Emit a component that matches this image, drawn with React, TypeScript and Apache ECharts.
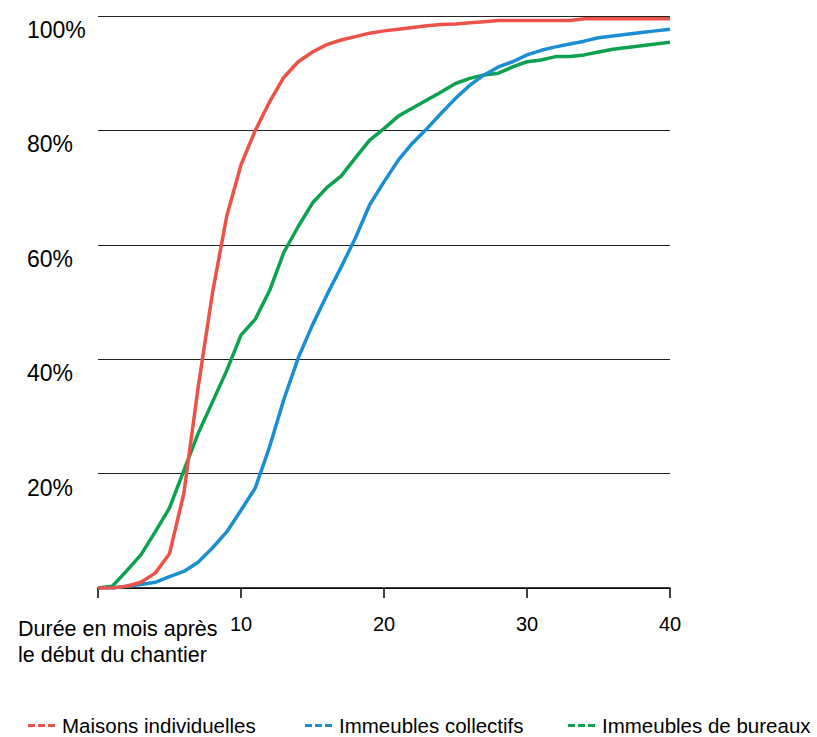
import React, { useEffect, useRef } from "react";
import * as echarts from "echarts";

const months = [0, 1, 2, 3, 4, 5, 6, 7, 8, 9, 10, 11, 12, 13, 14, 15, 16, 17, 18, 19, 20, 21, 22, 23, 24, 25, 26, 27, 28, 29, 30, 31, 32, 33, 34, 35, 36, 37, 38, 39, 40];

const maisons = [0, 0, 0.3, 1, 2.6, 6, 16.5, 35, 51.5, 65, 74, 80, 85, 89.3, 92, 93.7, 95, 95.8, 96.4, 97, 97.4, 97.7, 98, 98.3, 98.5, 98.6, 98.8, 99, 99.2, 99.2, 99.2, 99.2, 99.2, 99.2, 99.5, 99.5, 99.5, 99.5, 99.5, 99.5, 99.5];

const collectifs = [0, 0, 0.3, 0.6, 1, 2, 2.9, 4.5, 7, 9.8, 13.6, 17.5, 24.7, 33, 40.2, 46, 51.2, 56.1, 61.2, 67, 71, 74.8, 77.8, 80.3, 83, 85.6, 87.9, 89.7, 91.1, 92, 93.2, 94, 94.6, 95.1, 95.6, 96.2, 96.5, 96.8, 97.1, 97.4, 97.7];

const bureaux = [0, 0.3, 3, 5.8, 9.8, 14, 20.5, 27, 32.5, 38, 44.2, 47, 52, 58.7, 63.2, 67.3, 70, 72, 75.2, 78.3, 80.3, 82.5, 83.9, 85.3, 86.7, 88.2, 89.1, 89.7, 90, 91.1, 92, 92.3, 92.9, 92.9, 93.2, 93.7, 94.2, 94.5, 94.8, 95.1, 95.4];

const seriesNames = ["Maisons individuelles", "Immeubles collectifs", "Immeubles de bureaux"];
const seriesColors = ["#EC5247", "#1B8ED3", "#0CA14E"];
const seriesValues = [maisons, collectifs, bureaux];

const xTicks = [10, 20, 30, 40];
const yTicks = [20, 40, 60, 80, 100];
const xAxisTitle = "Durée en mois après\nle début du chantier";

const FONT = "'Liberation Sans', Arial, sans-serif";
const DASH_ICON = "path://M0,0h7v3h-7z M10,0h7v3h-7z M20,0h7v3h-7z";

export default function App() {
  const ref = useRef<HTMLDivElement>(null);

  useEffect(() => {
    if (!ref.current) return;
    const chart = echarts.init(ref.current, null, { renderer: "svg" });
    const legendLefts = [28, 305, 568];
    chart.setOption({
      animation: false,
      backgroundColor: "#ffffff",
      textStyle: { fontFamily: FONT },
      grid: { left: 98, right: 147, top: 16, bottom: 149, containLabel: false },
      xAxis: {
        type: "value",
        min: 0,
        max: 40,
        interval: 10,
        axisLine: { show: true, lineStyle: { color: "#000", width: 1.5 } },
        axisTick: { show: true, length: 10, lineStyle: { color: "#000", width: 1.5 } },
        splitLine: { show: false },
        axisLabel: {
          color: "#000",
          fontSize: 20,
          fontFamily: FONT,
          margin: 26,
          formatter: (v: number) => (xTicks.includes(v) ? String(v) : ""),
        },
      },
      yAxis: {
        type: "value",
        min: 0,
        max: 100,
        interval: 20,
        axisLine: { show: false },
        axisTick: { show: false },
        splitLine: { show: true, lineStyle: { color: "#222", width: 1 } },
        axisLabel: {
          color: "#000",
          fontSize: 23,
          fontFamily: FONT,
          align: "left",
          margin: 71,
          verticalAlign: "top",
          lineHeight: 28,
          formatter: (v: number) => (yTicks.includes(v) ? v + "%" : ""),
        },
      },
      legend: seriesNames.map((name, i) => ({
        data: [name],
        left: legendLefts[i],
        top: 715,
        icon: DASH_ICON,
        itemWidth: 27,
        itemHeight: 3,
        itemGap: 0,
        padding: 0,
        itemStyle: { borderWidth: 0 },
        textStyle: {
          color: "#000",
          fontSize: 20.5,
          lineHeight: 20,
          fontFamily: FONT,
          padding: [0, 0, 0, 2],
        },
        selectedMode: false,
      })),
      graphic: [
        {
          type: "text",
          left: 18,
          top: 616,
          style: {
            text: xAxisTitle,
            fontSize: 21.5,
            fontFamily: FONT,
            fill: "#000",
            lineHeight: 26,
          },
        },
      ],
      series: seriesNames.map((name, i) => ({
        name,
        type: "line",
        data: months.map((m, j) => [m, seriesValues[i][j]]),
        showSymbol: false,
        symbol: "none",
        color: seriesColors[i],
        lineStyle: { color: seriesColors[i], width: 3.5 },
        z: 3 - i,
      })),
    });
    return () => chart.dispose();
  }, []);

  return (
    <div
      ref={ref}
      style={{ position: "absolute", left: 0, top: 0, width: 817, height: 737 }}
    />
  );
}
